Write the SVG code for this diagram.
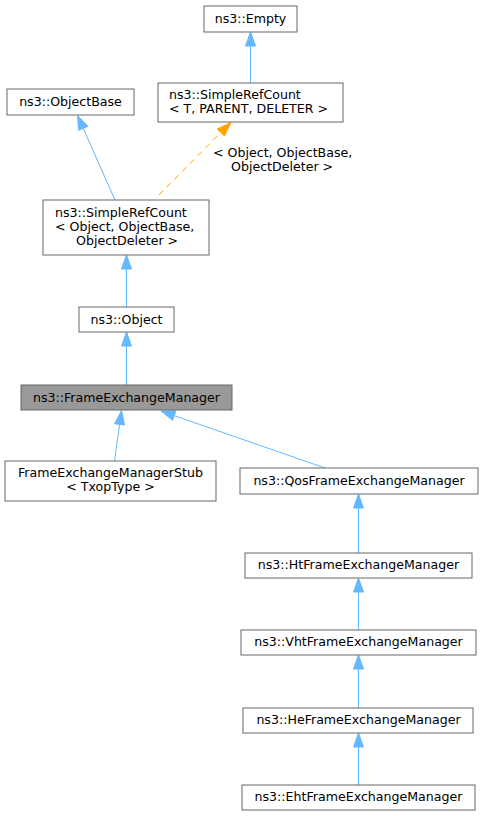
<svg xmlns="http://www.w3.org/2000/svg" width="483" height="816" viewBox="0 0 483 816">
<style>
.n rect{fill:#ffffff;stroke:#666666;stroke-width:1}
.n.hl rect{fill:#999999}
text{font-family:"DejaVu Sans",sans-serif;font-size:12.6px;fill:#000000}
.c{text-anchor:middle}
.e line{stroke:#63b8ff;stroke-width:1}
.e polygon{fill:#63b8ff;stroke:#63b8ff}
.e .o{stroke:#ffa500;stroke-dasharray:6,5}
.e polygon.o{fill:#ffa500;stroke:#ffa500;stroke-dasharray:none}
</style>
<rect width="483" height="816" fill="#ffffff"/>
<g id="connectors" class="e">
<line x1="250.5" y1="83" x2="250.5" y2="46"/>
<polygon points="250.5,32 245.5,46 255.5,46"/>
<line x1="115" y1="200" x2="83.2" y2="128.3"/>
<polygon points="77.5,115.5 87.8,126.3 78.6,130.3"/>
<line class="o" x1="159" y1="195" x2="220.6" y2="132.5"/>
<polygon class="o" points="231,122.5 224.4,136 217.2,129"/>
<text x="213" y="157">&lt; Object, ObjectBase,</text>
<text x="231" y="171">ObjectDeleter &gt;</text>
<line x1="126.5" y1="307" x2="126.5" y2="269"/>
<polygon points="126.5,255 121.5,269 131.5,269"/>
<line x1="126.5" y1="385" x2="126.5" y2="346"/>
<polygon points="126.5,332 121.5,346 131.5,346"/>
<line x1="114.5" y1="461" x2="119.6" y2="424.4"/>
<polygon points="121.5,410.5 124.5,425.1 114.6,423.7"/>
<line x1="325" y1="468" x2="174.2" y2="415.6"/>
<polygon points="161,411 175.9,410.9 172.6,420.3"/>
<line x1="358.5" y1="553" x2="358.5" y2="508"/>
<polygon points="358.5,494 353.5,508 363.5,508"/>
<line x1="358.5" y1="630" x2="358.5" y2="592"/>
<polygon points="358.5,578 353.5,592 363.5,592"/>
<line x1="358.5" y1="708" x2="358.5" y2="669"/>
<polygon points="358.5,655 353.5,669 363.5,669"/>
<line x1="358.5" y1="785" x2="358.5" y2="747"/>
<polygon points="358.5,733 353.5,747 363.5,747"/>
</g>
<g id="empty" class="n"><rect x="204" y="6" width="93" height="26"/><text class="c" x="250.5" y="23">ns3::Empty</text></g>
<g id="simplerefcount_t" class="n"><rect x="158" y="83" width="185" height="39"/><text x="169" y="99">ns3::SimpleRefCount</text><text x="169" y="113">&lt; T, PARENT, DELETER &gt;</text></g>
<g id="objectbase" class="n"><rect x="7" y="89" width="127" height="26"/><text class="c" x="70.5" y="106">ns3::ObjectBase</text></g>
<g id="simplerefcount_object" class="n"><rect x="43" y="200" width="166" height="55"/><text x="55" y="216.5">ns3::SimpleRefCount</text><text x="55" y="230.5">&lt; Object, ObjectBase,</text><text x="76" y="244.5">ObjectDeleter &gt;</text></g>
<g id="object" class="n"><rect x="79" y="307" width="95" height="25"/><text class="c" x="126.5" y="324">ns3::Object</text></g>
<g id="frameexchangemanager" class="n hl"><rect x="21" y="385" width="211" height="25"/><text class="c" x="126.5" y="402">ns3::FrameExchangeManager</text></g>
<g id="stub" class="n"><rect x="5" y="461" width="211" height="40"/><text class="c" x="110.5" y="477">FrameExchangeManagerStub</text><text class="c" x="110.5" y="491">&lt; TxopType &gt;</text></g>
<g id="qos" class="n"><rect x="240" y="468" width="238" height="26"/><text class="c" x="359" y="485">ns3::QosFrameExchangeManager</text></g>
<g id="ht" class="n"><rect x="245" y="553" width="227" height="25"/><text class="c" x="358.5" y="569">ns3::HtFrameExchangeManager</text></g>
<g id="vht" class="n"><rect x="241" y="630" width="235" height="25"/><text class="c" x="358.5" y="646">ns3::VhtFrameExchangeManager</text></g>
<g id="he" class="n"><rect x="243" y="708" width="230" height="25"/><text class="c" x="358.5" y="724">ns3::HeFrameExchangeManager</text></g>
<g id="eht" class="n"><rect x="242" y="785" width="233" height="25"/><text class="c" x="358.5" y="801">ns3::EhtFrameExchangeManager</text></g>
</svg>
